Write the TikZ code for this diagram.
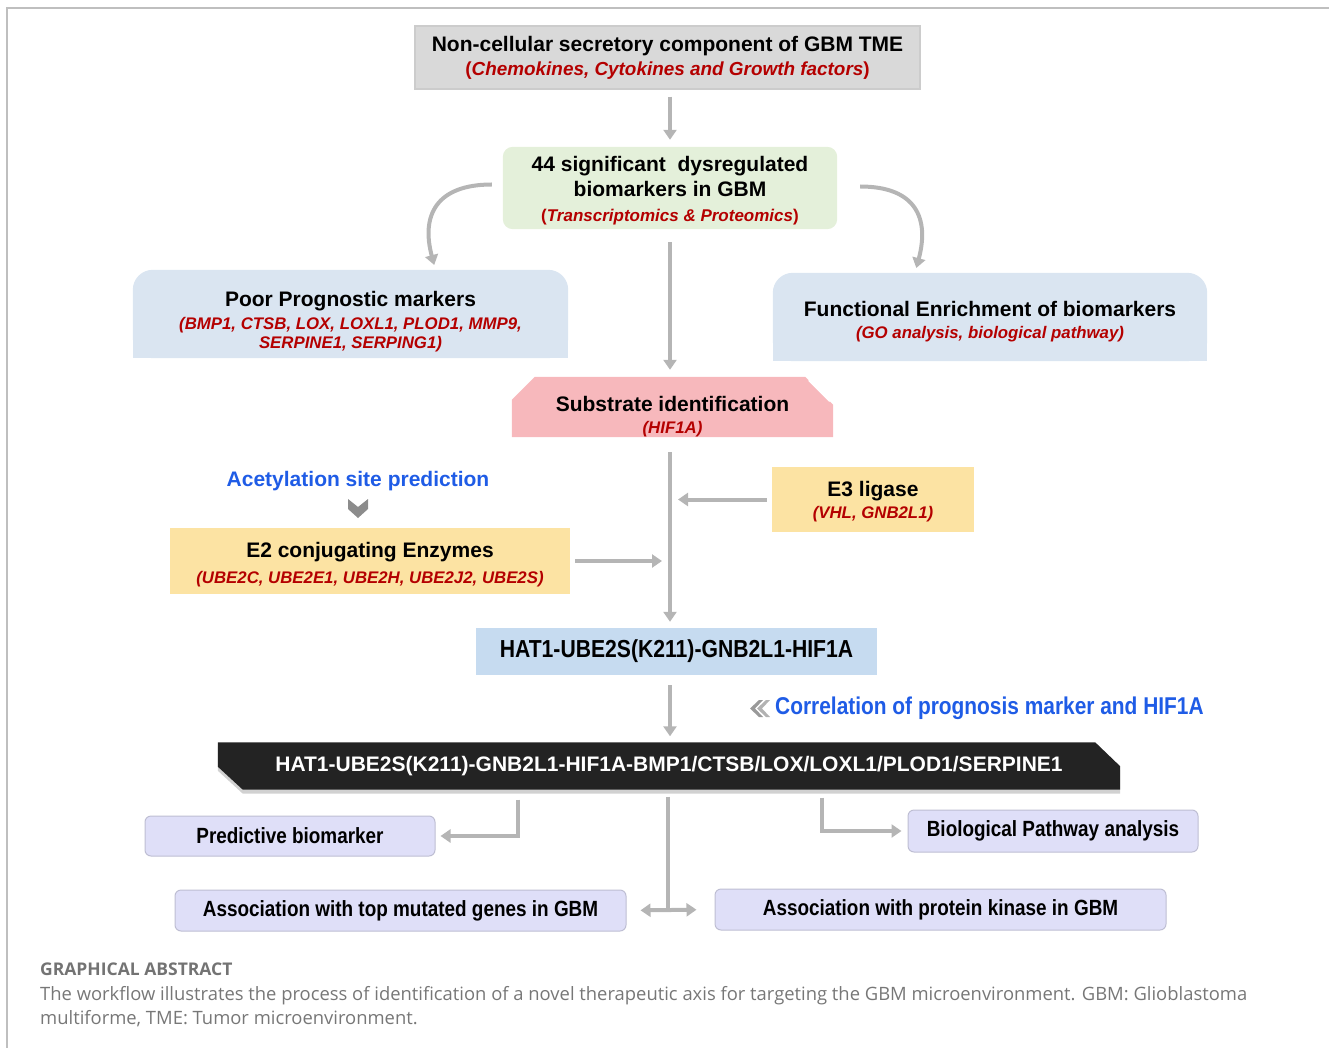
\documentclass[tikz,border=0pt]{standalone}
\usepackage{fontspec}
\setmainfont{Liberation Sans}
\newfontfamily\narrowsf[FakeStretch=0.86]{Liberation Sans}
\newfontfamily\capsf{Open Sans}
\usetikzlibrary{arrows.meta,backgrounds}
\definecolor{arrgray}{HTML}{B5B5B5}
\definecolor{darkred}{HTML}{B40000}
\definecolor{linkblue}{HTML}{1F5CE6}
\definecolor{greybox}{HTML}{D9D9D9}
\definecolor{greenbox}{HTML}{E4F0DA}
\definecolor{bluebox}{HTML}{DAE5F1}
\definecolor{pinkbox}{HTML}{F7B8BC}
\definecolor{yellowbox}{HTML}{FCE3A3}
\definecolor{hatbox}{HTML}{C6DBF0}
\definecolor{lilacbox}{HTML}{DFDFF8}
\definecolor{axisblack}{HTML}{232323}
\definecolor{capgray}{HTML}{777777}
\newcommand{\hd}{\fontsize{21}{24}\selectfont\bfseries}
\newcommand{\rd}[1]{{\fontsize{16.8}{20}\selectfont\bfseries\itshape\color{darkred}#1}}
\newcommand{\rdp}[2]{{\fontsize{#1}{22}\selectfont\bfseries\color{darkred}(\textit{#2})}}
\newcommand{\nw}{\narrowsf\fontsize{22}{24}\selectfont\bfseries}

\tikzset{
  box/.style={align=center, inner sep=0pt, font=\hd},
  arr/.style={draw=arrgray, line width=4pt, -{Triangle[width=13pt,length=10pt]}},
  gline/.style={draw=arrgray, line width=4pt},
  lilac/.style={box, fill=lilacbox, draw=lilacbox!85!black, line width=1pt, rounded corners=6pt, font=\nw},
}

\begin{document}
\begin{tikzpicture}[x=1pt,y=1pt]
\useasboundingbox (0,0) rectangle (1329,-1048);
\draw[black!25, line width=1.5pt] (7,-1048) -- (7,-8) -- (1329,-8);

% boxes
\node[box, fill=greybox, draw=black!20, line width=1.5pt, minimum width=505pt, minimum height=63pt] (tme) at (667.5,-57.5)
  {Non-cellular secretory component of GBM TME\\ \rdp{18.9}{Chemokines, Cytokines and Growth factors}};
\node[box, minimum width=334pt, minimum height=82pt] (bio) at (670,-190.5)
  {44 significant\ \ dysregulated\\[1pt] biomarkers in GBM\\[1pt] \rdp{17}{Transcriptomics \& Proteomics}};
\node[box, minimum width=435pt, minimum height=88pt] (poor) at (350.5,-321.5)
  {Poor Prognostic markers\\[-1pt] \rd{(BMP1, CTSB, LOX, LOXL1, PLOD1, MMP9,}\\[-5pt] \rd{SERPINE1, SERPING1)}};
\node[box, minimum width=434pt, minimum height=88pt] (func) at (990,-322)
  {Functional Enrichment of biomarkers\\[-2pt] \rd{(GO analysis, biological pathway)}};
\node[box, minimum width=321pt, minimum height=60pt] (sub) at (672.5,-416.5)
  {Substrate identification\\[-2pt] \rd{(HIF1A)}};
\node[box, text=linkblue] (acet) at (358,-481) {Acetylation site prediction};
\node[box, minimum width=400pt, minimum height=66pt] (e2) at (370,-564.5)
  {E2 conjugating Enzymes\\[2pt] \rd{(UBE2C, UBE2E1, UBE2H, UBE2J2, UBE2S)}};
\node[box, minimum width=202pt, minimum height=65pt] (e3) at (873,-502)
  {E3 ligase\\[-2pt] \rd{(VHL, GNB2L1)}};
\node[box, fill=hatbox, minimum width=401pt, minimum height=47pt, font=\narrowsf\fontsize{24.6}{26}\selectfont\bfseries] (hat) at (676.5,-651.5)
  {HAT1-UBE2S(K211)-GNB2L1-HIF1A};
\node[box, anchor=west, text=linkblue, font=\narrowsf\fontsize{24.3}{26}\selectfont\bfseries] (corr) at (775,-708) {Correlation of prognosis marker and HIF1A};
\node[box, text=white, minimum width=902pt, minimum height=47pt] (axis) at (669,-766)
  {HAT1-UBE2S(K211)-GNB2L1-HIF1A-BMP1/CTSB/LOX/LOXL1/PLOD1/SERPINE1};
\node[lilac, minimum width=290pt, minimum height=40pt] (pred) at (290,-836) {Predictive biomarker};
\node[lilac, minimum width=290pt, minimum height=42pt] (path) at (1053,-831) {Biological Pathway analysis};
\node[lilac, minimum width=451pt, minimum height=41pt] (mut) at (400.5,-910.5) {Association with top mutated genes in GBM};
\node[lilac, minimum width=451pt, minimum height=41pt] (kin) at (940.5,-909.5) {Association with protein kinase in GBM};

% box outlines (text sits a little low in them)
\coordinate (biotop) at ([yshift=2.5pt]bio.north);
\coordinate (biobot) at ([yshift=2.5pt]bio.south);
\coordinate (pooredge) at ([xshift=85pt,yshift=7.5pt]poor.north);
\coordinate (funcedge) at ([xshift=-75pt,yshift=5pt]func.north);
\coordinate (subtop) at ([yshift=9.5pt]sub.north);
\coordinate (subbot) at ([yshift=9.5pt]sub.south);
\coordinate (e2side) at ([yshift=3.5pt]e2.east);
\coordinate (e3side) at ([yshift=2.5pt]e3.west);
\begin{scope}[on background layer]
  \fill[greenbox, rounded corners=10pt] ([yshift=2.5pt]bio.south west) rectangle ([yshift=2.5pt]bio.north east);
  \fill[bluebox, rounded corners=20pt] ([yshift=7.5pt]poor.south west) rectangle ([yshift=7.5pt]poor.north east);
  \fill[bluebox] ([yshift=7.5pt]poor.south west) rectangle ([yshift=37.5pt]poor.south east);
  \fill[bluebox, rounded corners=20pt] ([yshift=5pt]func.south west) rectangle ([yshift=5pt]func.north east);
  \fill[bluebox] ([yshift=5pt]func.south west) rectangle ([yshift=35pt]func.south east);
  \fill[pinkbox] ([yshift=9.5pt]sub.south west) -- ([yshift=-13.5pt]sub.north west) -- ([xshift=23pt,yshift=9.5pt]sub.north west)
    -- ([xshift=-28pt,yshift=9.5pt]sub.north east) -- ([yshift=-18.5pt]sub.north east) -- ([yshift=9.5pt]sub.south east) -- cycle;
  \draw[white, line width=3pt] ([xshift=-24pt,yshift=6.5pt]sub.north east) -- ([xshift=-3pt,yshift=-14.5pt]sub.north east);
  \fill[yellowbox] ([yshift=3.5pt]e2.south west) rectangle ([yshift=3.5pt]e2.north east);
  \fill[yellowbox] ([yshift=2.5pt]e3.south west) rectangle ([yshift=2.5pt]e3.north east);
  \fill[white] ([xshift=-9pt]hat.north east) -- (hat.north east) -- ([yshift=-11pt]hat.north east) -- cycle;
  \fill[white] ([xshift=9pt]hat.south west) -- (hat.south west) -- ([yshift=11pt]hat.south west) -- cycle;
  \fill[black!18] ([yshift=-4pt]axis.north west) -- ([xshift=-25pt,yshift=-4pt]axis.north east) -- ([yshift=-28pt]axis.north east)
    -- ([yshift=-4pt]axis.south east) -- ([xshift=25pt,yshift=-4pt]axis.south west) -- ([yshift=19pt]axis.south west) -- cycle;
  \fill[axisblack] (axis.north west) -- ([xshift=-25pt]axis.north east) -- ([yshift=-24pt]axis.north east)
    -- (axis.south east) -- ([xshift=25pt]axis.south west) -- ([yshift=23pt]axis.south west) -- cycle;
\end{scope}

% chevrons
\fill[black!45] (348,-499) -- (358,-507) -- (368,-499) -- (368,-509) -- (358,-518) -- (348,-509) -- cycle;
\fill[black!40] (759,-700) -- (750,-708.5) -- (759,-717) -- (763,-717) -- (755,-708.5) -- (763,-700) -- cycle;
\fill[black!30] (766,-700) -- (757,-708.5) -- (766,-717) -- (770,-717) -- (762,-708.5) -- (770,-700) -- cycle;

% connectors
\draw[arr, shorten <=7pt, shorten >=7pt] (tme.south -| biotop) -- (biotop);
\draw[arr, shorten >=5pt] ([xshift=-11pt,yshift=6pt]bio.west) to[out=180, in=105, looseness=1.4] (pooredge);
\draw[arr, shorten >=5pt] ([xshift=23pt,yshift=4pt]bio.east) to[out=0, in=75, looseness=1.4] (funcedge);
\draw[arr, shorten <=13pt, shorten >=7pt] (biobot) -- (biobot |- subtop);
\draw[arr, shorten <=15pt, shorten >=6pt] (biobot |- subbot) -- (biobot |- hat.north);
\draw[arr, shorten <=5pt, shorten >=8pt] (e3side) -- (e3side -| biobot);
\draw[arr, shorten <=5pt, shorten >=8pt] (e2side) -- (e2side -| biobot);
\draw[arr, shorten <=10pt, shorten >=6pt] (hat.south -| biobot) -- (biobot |- axis.north);
\draw[gline, shorten <=7pt] ([xshift=-1pt]axis.south) -- ([xshift=-1pt]axis.south |- kin.west);
\draw[arr, {Triangle[width=13pt,length=10pt]}-{Triangle[width=13pt,length=10pt]}, shorten <=14pt, shorten >=18pt] (mut.east) -- (kin.west);
\draw[arr, shorten >=5pt] ([xshift=-151pt,yshift=-10pt]axis.south) |- (pred.east);
\draw[arr, shorten >=6pt] ([xshift=153pt,yshift=-8pt]axis.south) |- (path.west);

% caption
\node[anchor=base west, inner sep=0pt, text=black!55, font=\capsf\bfseries\fontsize{17.5}{24}\selectfont] (capt) at (40,-975) {GRAPHICAL ABSTRACT};
\node[anchor=north west, align=left, inner sep=0pt, text=capgray, font=\capsf\fontsize{18.4}{24}\selectfont] (capb) at (40,-986)
  {The workflow illustrates the process of identification of a novel therapeutic axis for targeting the GBM microenvironment. GBM: Glioblastoma\\ multiforme, TME: Tumor microenvironment.};
\end{tikzpicture}
\end{document}
